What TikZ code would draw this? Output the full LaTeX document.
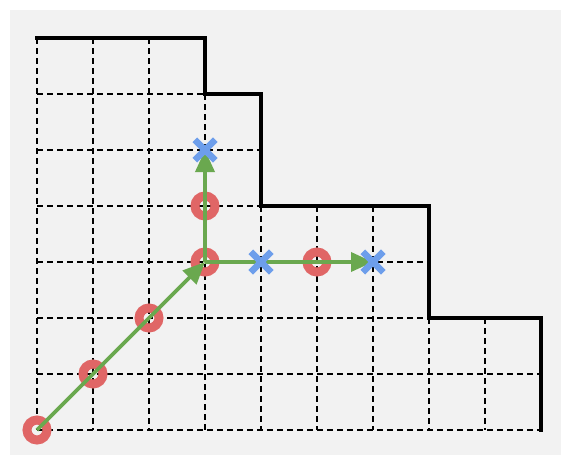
\documentclass[tikz,border=0pt]{standalone}
\usetikzlibrary{arrows.meta,shapes.misc}
\definecolor{bgc}{HTML}{F2F2F2}
\definecolor{ringred}{HTML}{E06666}
\definecolor{xblue}{HTML}{6D9EEB}
\definecolor{arrgreen}{HTML}{6AA84F}
\tikzset{
  gridline/.style={black, line width=1.6pt, dash pattern=on 6pt off 4pt},
  border/.style={black, line width=3.5pt, line cap=rect},
  ring/.style={circle, draw=ringred, line width=9pt, minimum size=20pt, inner sep=0pt},
  xmark/.style={cross out, draw=xblue, line width=6.5pt, minimum size=14pt, inner sep=0pt},
  move/.style={arrgreen, line width=3.6pt, -{Triangle[length=22pt,width=19pt]}},
}
\begin{document}
\begin{tikzpicture}[x=1pt,y=-1pt]
\useasboundingbox (0,0) rectangle (561,455);
\fill[bgc] (9.5,9.5) rectangle (561,455);
% grid points
\foreach \i in {0,...,9} {
  \foreach \j in {0,...,7} {
    \coordinate (g\i\j) at ({37+56*\i},{38+56*\j});
  }
}
% dashed grid
\draw[gridline] (g00) -- (g07);
\draw[gridline] (g10) -- (g17);
\draw[gridline] (g20) -- (g27);
\draw[gridline] (g31) -- (g37);
\draw[gridline] (g43) -- (g47);
\draw[gridline] (g53) -- (g57);
\draw[gridline] (g63) -- (g67);
\draw[gridline] (g75) -- (g77);
\draw[gridline] (g85) -- (g87);
\draw[gridline] (g01) -- (g31);
\draw[gridline] (g02) -- (g42);
\draw[gridline] (g03) -- (g43);
\draw[gridline] (g04) -- (g74);
\draw[gridline] (g05) -- (g75);
\draw[gridline] (g06) -- (g96);
\draw[gridline] (g07) -- (g97);
% staircase border
\draw[border] (g00) -- (g30) -- (g31) -- (g41) -- (g43) -- (g73) -- (g75) -- (g95) -- (g97);
% rings
\node[ring] (r1) at (g07) {};
\node[ring] (r2) at (g16) {};
\node[ring] (r3) at (g25) {};
\node[ring] (r4) at (g34) {};
\node[ring] (r5) at (g33) {};
\node[ring] (r6) at (g54) {};
% arrows
\draw[move] (r1.center) -- (r4.center);
\draw[move] (r4.center) -- (g32);
\draw[move] (r4.center) -- (g64);
% crosses
\node[xmark] (x1) at (g32) {};
\node[xmark] (x2) at (g44) {};
\node[xmark] (x3) at (g64) {};
\end{tikzpicture}
\end{document}
